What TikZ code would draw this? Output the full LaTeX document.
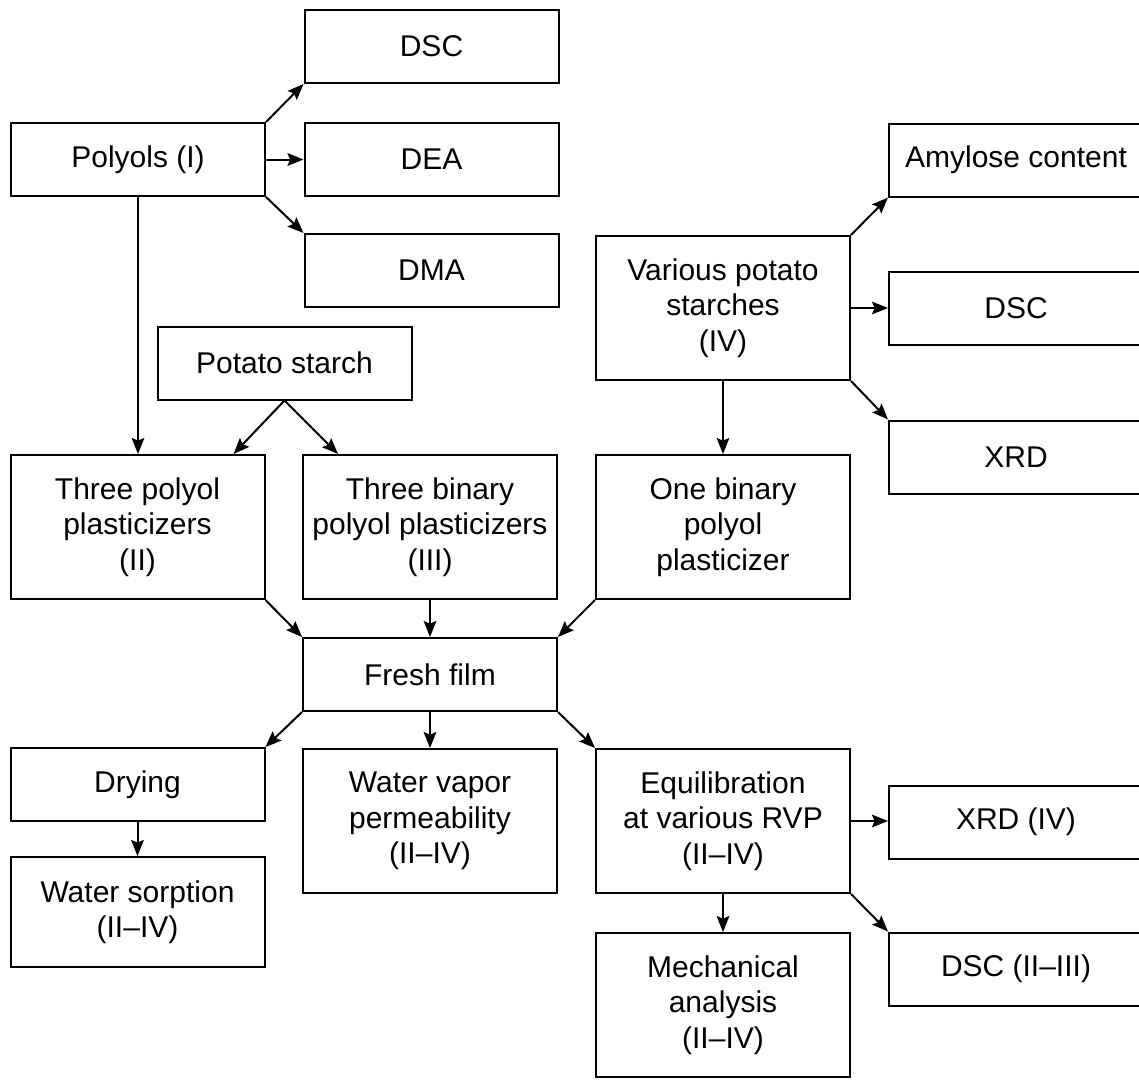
\documentclass[tikz,border=0pt]{standalone}
\usepackage{fontspec}
\setmainfont{Liberation Sans}
\usetikzlibrary{arrows.meta}

\tikzset{
	box/.style={draw, line width=1.5pt, inner sep=0pt, align=center, minimum width=190.5pt, font=\fontsize{22.5}{26.5}\selectfont},
	lowbox/.style={box, minimum height=54.75pt},
	highbox/.style={box, minimum height=108pt},
	arw/.style={line width=1.5pt, -{Stealth[length=12pt,width=9.5pt,inset=2pt]}},
}

\begin{document}
\begin{tikzpicture}[x=0.75pt,y=0.75pt,yscale=-1,xscale=1]
				%set diagram to the size of the picture
				\clip (0,0) rectangle (1139,1079);

				% Text Node
				\node [lowbox] (dsca) at (431.5,46.5) {DSC};
				% Text Node
				\node [lowbox] (dea) at (431.5,159.5) {DEA};
				% Text Node
				\node [lowbox] (dma) at (431.5,270.5) {DMA};
				% Text Node
				\node [lowbox] (polyols) at (138,159.5) {Polyols (I)};
				% Text Node
				\node [lowbox] (amylose) at (1016,160) {Amylose content};
				% Text Node
				\node [highbox] (various) at (723,308) {Various potato\\starches\\(IV)};
				% Text Node
				\node [lowbox] (dscb) at (1016,308) {DSC};
				% Text Node
				\node [lowbox] (xrda) at (1016,457) {XRD};
				% Text Node
				\node [lowbox] (starch) at (284.5,363) {Potato starch};
				% Text Node
				\node [highbox] (threepol) at (137.5,527) {Three polyol\\plasticizers\\(II)};
				% Text Node
				\node [highbox] (threebin) at (430,527) {Three binary\\polyol plasticizers\\(III)};
				% Text Node
				\node [highbox] (onebin) at (723,527) {One binary\\polyol\\plasticizer};
				% Text Node
				\node [lowbox] (fresh) at (430,674.5) {Fresh film};
				% Text Node
				\node [lowbox] (drying) at (137.5,784.5) {Drying};
				% Text Node
				\node [box, minimum height=82.5pt] (sorption) at (137.5,912) {Water sorption\\(II--IV)};
				% Text Node
				\node [highbox] (wvp) at (430,821) {Water vapor\\permeability\\(II--IV)};
				% Text Node
				\node [highbox] (equil) at (723,821) {Equilibration\\at various RVP\\(II--IV)};
				% Text Node
				\node [lowbox] (xrdb) at (1016,822) {XRD (IV)};
				% Text Node
				\node [highbox] (mech) at (723,1005) {Mechanical\\analysis\\(II--IV)};
				% Text Node
				\node [lowbox] (dscc) at (1016,969) {DSC (II--III)};

				%Straight Lines
				\draw [arw] (polyols.north east) -- (dsca.south west);
				\draw [arw] (polyols.east) -- (dea.west);
				\draw [arw] (polyols.south east) -- (dma.north west);
				\draw [arw] (polyols.south) -- (polyols.south |- threepol.north);
				%Straight Lines
				\draw [arw] (starch.south) -- ([xshift=72pt]threepol.north);
				\draw [arw] (starch.south) -- ([xshift=-69pt]threebin.north);
				%Straight Lines
				\draw [arw] (various.north east) -- (amylose.south west);
				\draw [arw] (various.east) -- (dscb.west);
				\draw [arw] (various.south east) -- (xrda.north west);
				\draw [arw] (various.south) -- (onebin.north);
				%Straight Lines
				\draw [arw] (threepol.south east) -- (fresh.north west);
				\draw [arw] (threebin.south) -- (fresh.north);
				\draw [arw] (onebin.south west) -- (fresh.north east);
				%Straight Lines
				\draw [arw] (fresh.south west) -- (drying.north east);
				\draw [arw] (fresh.south) -- (wvp.north);
				\draw [arw] (fresh.south east) -- (equil.north west);
				\draw [arw] (drying.south) -- (sorption.north);
				%Straight Lines
				\draw [arw] (equil.east) -- (equil.east -| xrdb.west);
				\draw [arw] (equil.south) -- (mech.north);
				\draw [arw] (equil.south east) -- (dscc.north west);

\end{tikzpicture}
\end{document}
